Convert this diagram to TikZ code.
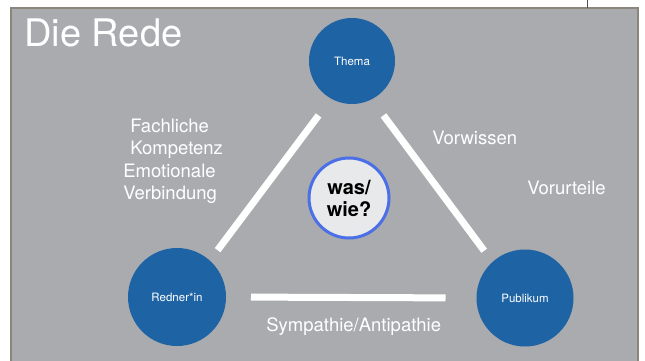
\documentclass[tikz,border=0pt]{standalone}
\usepackage{fontspec}
\setmainfont{TeX Gyre Heros}
\usetikzlibrary{calc}
\usetikzlibrary{positioning}
\definecolor{slideGray}{HTML}{A9ABAF}
\definecolor{frameGray}{HTML}{8A867B}
\definecolor{roleBlue}{HTML}{1E63A3}
\definecolor{ringBlue}{HTML}{4B6FE6}
\definecolor{coreGray}{HTML}{E8E9EB}
\tikzset{every picture/.style={semithick}}
\tikzset{
	role/.style={circle, fill=roleBlue, inner sep=0pt, outer sep=0pt, minimum size=#1, text=white, font=\fontsize{11.5}{13}\selectfont},
	bar/.style={draw=white, line width=7pt},
	aspect/.style={text=white, align=left, inner sep=0pt, anchor=west, font=\fontsize{18.5}{22}\selectfont}
}

\begin{document}
\begin{tikzpicture}[x=1pt, y=-1pt]
		\def\tX{352}
		\def\tY{61}
		\def\rX{-175}
		\def\rY{236}
		\def\pX{173}
		\def\pY{237}
		\def\cX{-3}
		\def\cY{137}

		\useasboundingbox (0,0) rectangle (645,361);
		\clip (0,0) rectangle (645,361);

		% slide
		\filldraw[fill=slideGray, draw=frameGray, line width=2pt] (11,8) rectangle (638,380);
		\draw[frameGray!60!black, line width=0.6pt] (587,0) -- (587,8);
		\node[anchor=base west, inner sep=0pt, text=white, font=\fontsize{38}{40}\selectfont] (title) at (24,47) {Die Rede};

		% triangle
		\node[role=86pt] (thema) at (\tX,\tY) {Thema};
			\node[role=98pt] (redner) at ($(thema) + (\rX,\rY)$) {Redner*in};
			\node[role=97pt] (publikum) at ($(thema) + (\pX,\pY)$) {Publikum};
		\node[circle, minimum size=80pt, inner sep=0pt, fill=coreGray, draw=ringBlue, line width=3pt, align=center, font=\bfseries\fontsize{20}{22}\selectfont] (waswie) at ($(thema) + (\cX,\cY)$) {was/\\wie?};

		\draw[bar, shorten <=21pt, shorten >=13pt] (thema.241) -- (redner.48);
		\draw[bar, shorten <=20pt, shorten >=14pt] (thema.297) -- (publikum.132);
		\draw[bar, shorten <=25pt, shorten >=31pt] (redner.east) -- (publikum.west);

		% labels
		\node[aspect] (fach) at (130,139) {Fachliche\\Kompetenz};
		\node[aspect] (emo) at (123,184) {Emotionale\\Verbindung};
		\node[aspect] (vorw) at (432,138) {Vorwissen};
		\node[aspect] (vorurt) at (527,188) {Vorurteile};
		\node[aspect] (sympa) at (266,327) {Sympathie/Antipathie};
\end{tikzpicture}
\end{document}
